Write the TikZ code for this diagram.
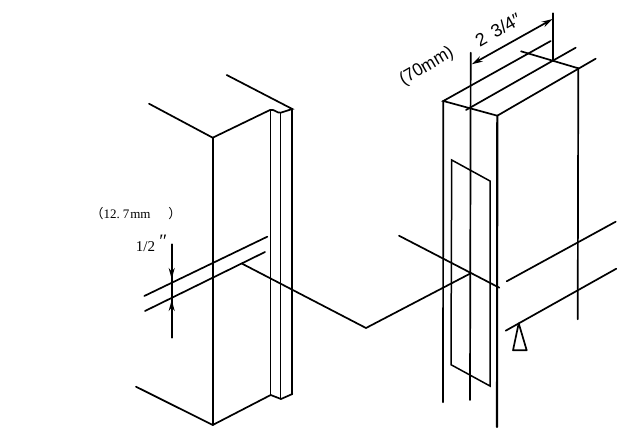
\documentclass[tikz,border=0pt]{standalone}
\usepackage{fontspec}
\setmainfont{Liberation Serif}
\newfontfamily\handfont{Liberation Sans}
\newfontfamily\cjkfont{Noto Sans CJK SC}
\usetikzlibrary{arrows.meta}
\tikzset{
  ink/.style={line width=1.7pt,line cap=round,line join=miter,black},
  thick ink/.style={ink,line width=2.1pt},
  thin ink/.style={ink,line width=1.5pt},
  dimtip/.style={-{Stealth[length=11pt,width=6pt]}},
  label/.style={inner sep=0pt,text=black}
}
\begin{document}
\begin{tikzpicture}[x=1pt,y=-1pt]
\useasboundingbox (0,0) rectangle (621,428);
% left block
\draw[ink] (149,103.7) -- (212.7,137.7) -- (270,110) .. controls (274,108.5) and (277,113.5) .. (280.7,112.7) -- (292.3,109) -- (226.7,75);
\draw[ink] (212.7,137.7) -- (212.7,425);
\draw[ink] (136,386.7) -- (212.7,425) -- (270.7,395) -- (281,399) -- (292.3,394);
\draw[thin ink] (270.7,110) -- (270.7,395);
\draw[thin ink] (280.7,112.7) -- (280.7,399);
\draw[thick ink] (292.3,109) -- (292.3,394);
% left section lines
\draw[ink] (144.3,296) -- (267.3,236.7);
\draw[ink] (145,311) -- (265,252);
\draw[ink] (242.7,264) -- (366,328) -- (470.7,273.3);
% left dimension
\draw[ink] (171.7,244.3) -- (171.7,337.7);
\draw[ink,dimtip] (171.7,262) -- (171.7,279);
\draw[ink,dimtip] (171.7,317) -- (171.7,300);
\node[label,font=\fontsize{13}{15}\selectfont] (mm) at (136,213.5) {{\cjkfont （}12.\hspace{3pt}7\hspace{1pt}mm\hspace{18pt}{\cjkfont ）}};
\node[label,font=\fontsize{15}{17}\selectfont] (half) at (145.5,247) {1/2};
\node[label,font=\itshape\fontsize{19}{19}\selectfont] (sec) at (162,241) {″};
% right block
\draw[ink] (550.7,41) -- (443.3,101) -- (497.3,115.7) -- (595.7,58.7);
\draw[ink] (466,110) -- (575.7,47.7);
\draw[ink] (521,51.3) -- (578.3,68.3);
\draw[ink] (443.3,101) -- (443,402.3);
\draw[thick ink] (497.3,115.7) -- (497,427);
\draw[ink] (578.3,68.3) -- (577.7,319.3);
\draw[ink] (470.7,52.7) -- (470,400);
\draw[ink] (552.7,13.3) -- (552.7,60);
\draw[ink,{Stealth[length=11pt,width=6pt]}-{Stealth[length=11pt,width=6pt]}] (471.7,64.3) -- (552.7,19);
\draw[thin ink] (490,181) -- (451.7,160) -- (451,364.7) -- (490,386) -- cycle;
\draw[ink] (399,235.7) -- (499.3,287.7);
\draw[ink] (506.7,281.3) -- (615.7,221.7);
\draw[ink] (505.7,330.7) -- (616.3,268.7);
\draw[ink,line join=round] (518.7,323.3) -- (513,350.3) -- (526.7,350.3) -- cycle;
\node[label,rotate=30,xscale=0.95,font=\handfont\fontsize{18}{20}\selectfont] (mmr) at (426.7,66.7) {(70mm)};
\node[label,rotate=30,font=\handfont\fontsize{18}{20}\selectfont] (inch) at (498,30) {2\hspace{8pt}3/4″};
\end{tikzpicture}
\end{document}
